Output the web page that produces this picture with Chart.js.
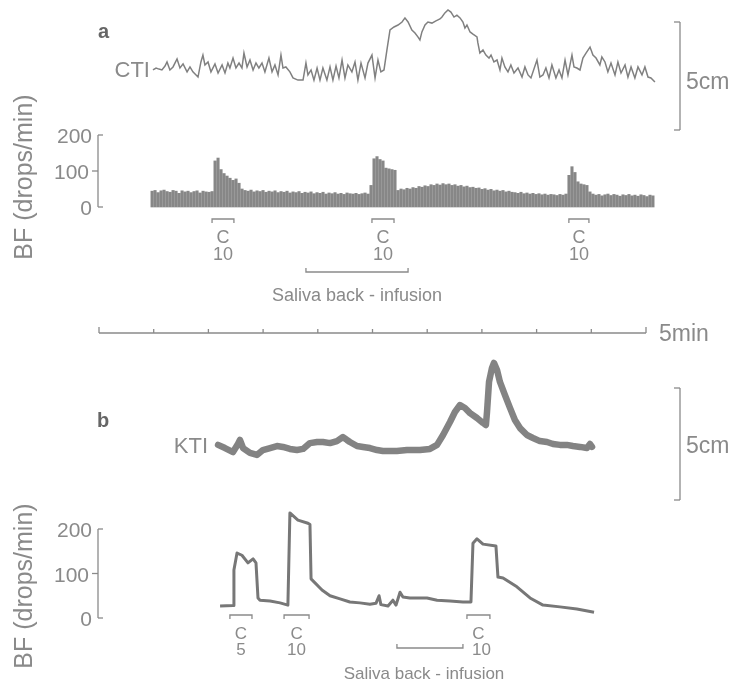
<!DOCTYPE html>
<html>
<head>
<meta charset="utf-8">
<script src="https://cdn.jsdelivr.net/npm/chart.js@4.4.0/dist/chart.umd.min.js"></script>
<style>
  html, body { margin: 0; padding: 0; background: #fff; }
  #wrap { position: relative; width: 734px; height: 686px; overflow: hidden;
          font-family: "Liberation Sans", Arial, sans-serif; color: #8a8a8a; }
  #wrap canvas { position: absolute; left: 0; top: 0; }
  .t { position: absolute; white-space: nowrap; line-height: 1; }
  .lab { font-weight: bold; color: #666; }
</style>
</head>
<body>
<div id="wrap"><canvas id="c" width="734" height="686"></canvas></div>
<script>
// ==============================================
// data (time in s, 0 = left end of the 5 min bar)
// ==============================================

// panel a : CTI tension (cm of pen deflection, 0 = foot of the 5cm bar)
const ctiTime = [29.6, 31.3, 32.9, 34.5, 36.2, 37.3, 38.9, 40.6, 42.8, 44.4, 46.1, 48.3, 49.9, 51.5, 54.3, 55.9, 57.0, 58.1, 59.8, 61.4,
  63.6, 65.3, 67.5, 69.1, 70.7, 71.8, 73.5, 75.1, 76.8, 78.4, 79.5, 81.2, 82.8, 84.5, 86.1, 87.7, 89.4, 91.0, 93.2, 94.9,
  96.5, 98.2, 99.8, 100.9, 102.5, 104.7, 106.4, 109.1, 111.9, 113.5, 114.6, 116.3, 117.9, 119.6, 121.2, 122.8, 125.0, 126.7, 128.3, 130.0,
  131.6, 133.3, 134.9, 136.5, 138.7, 140.4, 142.0, 143.7, 145.9, 147.5, 149.7, 151.4, 153.0, 154.6, 156.3, 157.9, 159.6, 161.8, 164.0, 166.2,
  167.8, 169.5, 171.6, 173.3, 174.9, 176.0, 177.1, 178.8, 180.4, 182.6, 184.8, 187.0, 188.1, 189.7, 191.4, 193.0, 194.7, 196.3, 198.0, 199.6,
  200.7, 201.8, 203.5, 205.1, 207.3, 207.8, 208.9, 210.6, 212.2, 213.9, 215.0, 216.6, 218.3, 219.9, 221.0, 222.6, 224.3, 225.9, 227.6, 229.8,
  232.0, 233.6, 235.3, 236.9, 240.2, 241.8, 243.5, 245.1, 246.8, 248.4, 250.6, 252.3, 253.9, 255.6, 257.2, 259.4, 260.5, 262.1, 263.8, 265.4,
  267.1, 269.3, 270.9, 272.6, 274.7, 275.8, 277.5, 279.1, 280.8, 283.0, 284.6, 286.3, 288.5, 290.1, 291.8, 293.9, 295.6, 297.8, 299.4, 301.1,
  302.7, 304.9];
const ctiCm = [2.78, 2.87, 2.82, 2.78, 2.96, 3.15, 2.78, 2.92, 3.29, 2.87, 3.06, 2.69, 2.92, 2.69, 2.45, 3.15, 3.47, 3.01, 3.15, 2.69,
  3.06, 2.64, 3.01, 2.64, 3.10, 2.87, 3.33, 2.87, 3.10, 2.87, 3.56, 2.92, 3.24, 2.78, 3.10, 2.87, 3.10, 2.69, 3.33, 2.69,
  3.01, 2.55, 3.47, 2.87, 2.92, 2.69, 2.41, 2.31, 2.31, 3.10, 2.55, 2.78, 2.31, 2.87, 2.31, 2.87, 2.31, 2.92, 2.31, 2.96,
  2.41, 3.24, 2.41, 3.01, 2.69, 3.15, 2.31, 3.10, 2.41, 3.10, 3.47, 2.41, 3.24, 2.69, 2.78, 3.70, 4.63, 4.77, 4.86, 5.00,
  5.19, 5.00, 4.63, 4.49, 4.31, 4.17, 4.54, 4.86, 5.00, 4.95, 5.05, 5.14, 5.23, 5.42, 5.56, 5.46, 5.23, 5.32, 5.19, 5.00,
  4.72, 4.86, 4.54, 4.44, 4.31, 4.03, 3.56, 3.70, 3.47, 3.33, 3.47, 3.15, 3.24, 2.78, 3.33, 2.92, 2.69, 3.01, 2.64, 2.87,
  2.45, 2.92, 2.55, 2.41, 3.24, 2.45, 2.55, 2.87, 2.41, 3.01, 2.41, 2.78, 2.41, 3.24, 2.55, 3.47, 2.92, 2.87, 2.78, 3.33,
  3.56, 3.84, 3.47, 3.33, 3.01, 3.38, 3.15, 2.69, 3.10, 2.55, 3.15, 2.64, 3.01, 2.45, 2.92, 2.41, 2.92, 2.55, 2.92, 2.45,
  2.41, 2.22];

// panel a : BF, one vertical stroke per drop (drops/min)
const bfaStart = 29.1;
const bfaStep = 1.645;
const bfaRate = [44, 46, 40, 45, 47, 43, 41, 46, 44, 38, 45, 42, 44, 40, 43, 45, 39, 44, 42, 41, 43,
  128, 136, 104, 93, 86, 80, 74, 78, 66,
  50, 46, 44, 47, 42, 45, 43, 46, 41, 44, 42, 45, 40, 43, 41, 44, 39, 42, 40, 43, 38, 41, 39, 42, 37, 40, 38, 41, 36, 39, 37, 40, 36, 38, 35, 39, 37, 36, 38, 35, 37, 39, 36,
  60, 134, 140, 132, 128, 108, 106, 104, 102,
  46, 50, 48, 52, 50, 54, 52, 57, 55, 59, 57, 62, 60, 64, 61, 65, 62, 64, 60,
  62, 58, 60, 56, 58, 54, 55, 52, 53, 49, 51, 47, 49, 45, 47, 44, 46, 42, 44, 41,
  40, 38, 41, 37, 39, 36, 38, 35, 37, 34, 36, 33, 35, 34, 32, 35, 33, 36,
  88, 112, 96, 70, 64, 62, 60, 42,
  36, 33, 35, 31, 34, 36, 32, 35, 33, 30, 34, 32, 35, 31, 33, 30, 34, 32, 29, 33, 31];

// panel b : KTI tension (cm)
const ktiTime = [65.3, 69.1, 73.5, 76.2, 77.3, 79.0, 82.8, 86.6, 89.9, 93.8, 97.6, 100.9, 104.7, 108.6, 111.9, 115.7, 119.6, 122.8, 126.7, 130.5,
  133.8, 136.0, 137.6, 141.5, 144.8, 148.6, 152.5, 155.7, 159.6, 163.4, 168.9, 176.0, 181.5, 185.4, 188.7, 192.5, 195.2, 198.0, 200.7, 203.5,
  207.3, 210.6, 212.2, 212.8, 213.9, 215.5, 216.6, 218.3, 219.9, 222.6, 225.4, 228.1, 230.9, 234.7, 238.0, 241.8, 245.7, 249.0, 252.8, 256.6,
  259.9, 263.8, 267.6, 269.3, 270.4];
const ktiCm = [2.46, 2.32, 2.14, 2.50, 2.68, 2.32, 2.10, 2.01, 2.23, 2.32, 2.41, 2.37, 2.28, 2.23, 2.28, 2.54, 2.59, 2.59, 2.54, 2.63,
  2.81, 2.68, 2.59, 2.41, 2.37, 2.32, 2.23, 2.19, 2.19, 2.19, 2.23, 2.23, 2.28, 2.46, 2.90, 3.48, 3.93, 4.24, 4.11, 3.88,
  3.66, 3.44, 3.35, 3.93, 5.27, 5.89, 6.12, 5.80, 5.27, 4.69, 4.11, 3.57, 3.21, 2.90, 2.77, 2.63, 2.59, 2.50, 2.46, 2.46,
  2.41, 2.37, 2.32, 2.50, 2.37];

// panel b : BF ratemeter trace (drops/min)
const bfbTime = [66.4, 73.5, 74.0, 75.7, 78.4, 81.7, 84.5, 86.1, 87.2, 88.3, 93.8, 99.3, 103.6, 104.7, 109.1, 114.6, 115.7, 116.3, 122.3, 126.7,
  132.2, 137.6, 143.1, 148.6, 151.9, 153.6, 154.6, 158.5, 161.2, 162.9, 165.1, 166.7, 170.5, 179.9, 185.4, 192.5, 199.6, 204.0, 205.1, 207.3,
  210.6, 217.7, 218.8, 221.6, 229.2, 236.4, 243.5, 252.8, 262.1, 271.5];
const bfbRate = [27, 28, 108, 146, 141, 124, 133, 124, 45, 40, 38, 34, 29, 236, 220, 213, 210, 88, 63, 50,
  43, 36, 34, 31, 33, 50, 30, 27, 40, 29, 58, 47, 45, 45, 40, 38, 36, 36, 168, 178,
  166, 162, 92, 90, 70, 45, 29, 25, 20, 13];

// stimulation marks (C) and saliva back-infusion, s
const aStimStart = [62.0, 149.7, 257.7];
const aStimEnd = [74.0, 161.8, 268.7];
const aStimDose = ["10", "10", "10"];
const bStimStart = [71.8, 101.5, 201.8];
const bStimEnd = [83.9, 115.2, 214.4];
const bStimDose = ["5", "10", "10"];
const aSaliva = [113.5, 169.5];
const bSaliva = [163.4, 199.6];

// axes / calibration
const bfTicks = [0, 100, 200];
const timeTicks = [0, 30, 60, 90, 120, 150, 180, 210, 240, 270, 300];
const calCm = [0, 5];

// ==============================================
// page layout (px)
// ==============================================
const W = 734, H = 686;
const px = {
  timeL: 99, timeR: 646, timeY: 333,
  cti: [130, 22], bfa: [207, 135], kti: [500, 388], bfb: [618, 529],
  axisX: 98, calX: 680,
  aStimY: 219, aCY: 237, aDoseY: 254, aSalY: 272, aSalTextY: 295,
  bStimY: 615, bCY: 633, bDoseY: 649, bSalY: 648, bSalTextY: 673
};

// min/max of a scale that puts v0 at pixel p0 and v1 at pixel p1
function span(v0, p0, v1, p1, size) {
  const k = (p1 - p0) / (v1 - v0);
  const a = v0 + (0 - p0) / k, b = v0 + (size - p0) / k;
  return { min: Math.min(a, b), max: Math.max(a, b) };
}

const grey = "#8a8a8a";

const marks = {
  id: "marks",
  afterDatasetsDraw(chart) {
    const c = chart.ctx, xs = chart.scales.x;
    c.save();
    c.strokeStyle = grey;
    c.lineWidth = 1.3;
    c.lineCap = "butt";
    const seg = (x1, y1, x2, y2) => { c.beginPath(); c.moveTo(x1, y1); c.lineTo(x2, y2); c.stroke(); };

    // BF axes
    [chart.scales.yBFa, chart.scales.yBFb].forEach(ys => {
      const top = ys.getPixelForValue(200), bot = ys.getPixelForValue(0), mid = ys.getPixelForValue(100);
      seg(px.axisX, top, px.axisX, bot);
      seg(px.axisX, top, px.axisX + 5, top);
      seg(px.axisX, bot, px.axisX + 5, bot);
      seg(px.axisX - 6, mid, px.axisX, mid);
    });

    // 5cm calibration bars
    [chart.scales.yCTI, chart.scales.yKTI].forEach(ys => {
      const top = ys.getPixelForValue(calCm[1]), bot = ys.getPixelForValue(calCm[0]);
      seg(px.calX, top, px.calX, bot);
      seg(px.calX - 6, top, px.calX, top);
      seg(px.calX - 6, bot, px.calX, bot);
    });

    // 5 min time bar
    seg(xs.getPixelForValue(timeTicks[0]), px.timeY, xs.getPixelForValue(timeTicks[timeTicks.length - 1]), px.timeY);
    timeTicks.forEach((t, i) => {
      const h = (i === 0 || i === timeTicks.length - 1) ? 6 : 4;
      const x = xs.getPixelForValue(t);
      seg(x, px.timeY, x, px.timeY - h);
    });

    // stimulation brackets
    const stim = (starts, ends, y) => starts.forEach((s, i) => {
      const x1 = xs.getPixelForValue(s), x2 = xs.getPixelForValue(ends[i]);
      c.beginPath(); c.moveTo(x1, y + 4); c.lineTo(x1, y); c.lineTo(x2, y); c.lineTo(x2, y + 4); c.stroke();
    });
    stim(aStimStart, aStimEnd, px.aStimY);
    stim(bStimStart, bStimEnd, px.bStimY);

    // saliva back-infusion bars
    const sal = (r, y) => {
      const x1 = xs.getPixelForValue(r[0]), x2 = xs.getPixelForValue(r[1]);
      c.beginPath(); c.moveTo(x1, y - 4); c.lineTo(x1, y); c.lineTo(x2, y); c.lineTo(x2, y - 4); c.stroke();
    };
    sal(aSaliva, px.aSalY);
    sal(bSaliva, px.bSalY);
    c.restore();
  }
};

const ctx = document.getElementById("c").getContext("2d");
const chart = new Chart(ctx, {
  type: "line",
  data: {
    datasets: [
      {
        type: "line", label: "CTI", yAxisID: "yCTI",
        data: ctiTime.map((t, i) => ({ x: t, y: ctiCm[i] })),
        borderColor: "#808080", borderWidth: 1.5, pointRadius: 0, tension: 0
      },
      {
        type: "bar", label: "BF a", yAxisID: "yBFa",
        data: bfaRate.map((v, i) => ({ x: bfaStart + i * bfaStep, y: v })),
        backgroundColor: "rgba(95,95,95,0.75)", borderWidth: 0, barThickness: 2.4
      },
      {
        type: "line", label: "KTI", yAxisID: "yKTI",
        data: ktiTime.map((t, i) => ({ x: t, y: ktiCm[i] })),
        borderColor: "rgba(118,118,118,0.9)", borderWidth: 6.5, pointRadius: 0, tension: 0,
        borderJoinStyle: "round", borderCapStyle: "round"
      },
      {
        type: "line", label: "BF b", yAxisID: "yBFb",
        data: bfbTime.map((t, i) => ({ x: t, y: bfbRate[i] })),
        borderColor: "#777", borderWidth: 3, pointRadius: 0, tension: 0, borderJoinStyle: "round"
      }
    ]
  },
  options: {
    responsive: false,
    animation: false,
    devicePixelRatio: 1,
    layout: { padding: 0 },
    plugins: { legend: { display: false }, tooltip: { enabled: false } },
    scales: {
      x: { type: "linear", display: false, offset: false, ...span(0, px.timeL, 300, px.timeR, W) },
      yCTI: { type: "linear", display: false, ...span(0, px.cti[0], 5, px.cti[1], H) },
      yBFa: { type: "linear", display: false, ...span(0, px.bfa[0], 200, px.bfa[1], H) },
      yKTI: { type: "linear", display: false, ...span(0, px.kti[0], 5, px.kti[1], H) },
      yBFb: { type: "linear", display: false, ...span(0, px.bfb[0], 200, px.bfb[1], H) }
    }
  },
  plugins: [marks]
});

// ==============================================
// text labels (HTML), placed with the chart's scales
// ==============================================
const wrap = document.getElementById("wrap");
function addText(txt, x, y, size, align, cls, extra) {
  const d = document.createElement("div");
  d.className = "t" + (cls ? " " + cls : "");
  d.textContent = txt;
  d.style.fontSize = size + "px";
  d.style.left = x + "px";
  d.style.top = y + "px";
  const tx = align === "right" ? "-100%" : align === "left" ? "0" : "-50%";
  d.style.transform = "translate(" + tx + ",-50%)" + (extra || "");
  wrap.appendChild(d);
}
const xs = chart.scales.x;

addText("a", 98, 31, 20, "left", "lab");
addText("b", 97, 420, 20, "left", "lab");
addText("CTI", 150, 70, 22, "right");
addText("KTI", 208, 446, 22, "right");
addText("5cm", 686, 81, 23, "left");
addText("5cm", 686, 445, 23, "left");
addText("5min", 659, 333, 23, "left");

[["yBFa", 177], ["yBFb", 586]].forEach(([id, cy]) => {
  const ys = chart.scales[id];
  bfTicks.forEach(v => {
    addText(String(v), px.axisX - (v === 100 ? 9 : 6), ys.getPixelForValue(v), 21, "right");
  });
  addText("BF (drops/min)", 23, cy, 25, "center", "", " rotate(-90deg)");
});

aStimStart.forEach((s, i) => {
  const cx = (xs.getPixelForValue(s) + xs.getPixelForValue(aStimEnd[i])) / 2;
  addText("C", cx, px.aCY, 18, "center");
  addText(aStimDose[i], cx, px.aDoseY, 18, "center");
});
bStimStart.forEach((s, i) => {
  const cx = (xs.getPixelForValue(s) + xs.getPixelForValue(bStimEnd[i])) / 2;
  addText("C", cx, px.bCY, 17, "center");
  addText(bStimDose[i], cx + (i === 2 ? 3 : 0), px.bDoseY, 17, "center");
});
addText("Saliva back - infusion", (xs.getPixelForValue(aSaliva[0]) + xs.getPixelForValue(aSaliva[1])) / 2, px.aSalTextY, 18, "center");
addText("Saliva back - infusion", 424, px.bSalTextY, 17, "center");
</script>
</body>
</html>
